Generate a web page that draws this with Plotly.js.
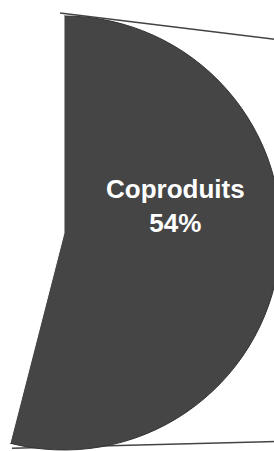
<!DOCTYPE html>
<html>
<head>
<meta charset="utf-8">
<script src="https://cdn.plot.ly/plotly-3.0.1.min.js"></script>
<style>
html,body{margin:0;padding:0;overflow:hidden;background:#fff;width:274px;height:451px;}
#chart{position:absolute;left:-153px;top:0;width:434px;height:451px;}
</style>
</head>
<body>
<div id="chart"></div>
<script>
var categories = ["Coproduits", "Autres"];
var values = [54, 46];
var colors = ["#454545", "#ffffff"];

var trace = {
  type: "pie",
  labels: categories,
  values: values,
  sort: false,
  direction: "clockwise",
  rotation: 0,
  marker: {colors: colors, line: {color: ["#333333", "#ffffff"], width: 1}},
  textinfo: "none",
  hoverinfo: "none",
  showlegend: false
};

var layout = {
  width: 434,
  height: 451,
  margin: {l: 0, r: 0, t: 16, b: 1, pad: 0},
  paper_bgcolor: "#ffffff",
  showlegend: false,
  shapes: [
    {type: "line", xref: "paper", yref: "paper", x0: 0.491, y0: 1.007, x1: 0.99, y1: 0.946, layer: "below", line: {color: "#444444", width: 1.5}},
    {type: "line", xref: "paper", yref: "paper", x0: 0.38, y0: 0.004, x1: 0.99, y1: 0.0195, layer: "below", line: {color: "#444444", width: 1.5}}
  ],
  annotations: [{
    xref: "paper", yref: "paper", x: 0.758, y: 0.562,
    text: "<b>" + categories[0] + "<br>" + values[0] + "%</b>",
    showarrow: false,
    font: {family: "Liberation Sans, Arial, sans-serif", size: 26, color: "#ffffff"},
    xanchor: "center", yanchor: "middle", align: "center"
  }]
};

Plotly.newPlot("chart", [trace], layout, {displayModeBar: false, staticPlot: true});
</script>
</body>
</html>
